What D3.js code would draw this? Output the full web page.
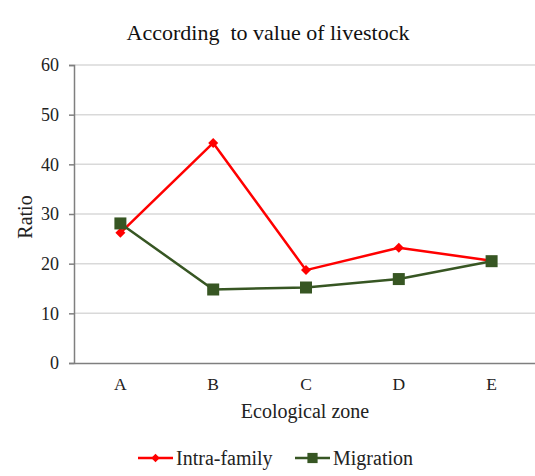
<!DOCTYPE html>
<html>
<head>
<meta charset="utf-8">
<script src="https://cdn.jsdelivr.net/npm/d3@7"></script>
<style>
  html, body { margin: 0; padding: 0; background: #fff; }
  svg { display: block; }
  svg text { font-family: "Liberation Serif", "Times New Roman", serif; }
</style>
</head>
<body>
<svg id="chart" width="535" height="476"></svg>
<script>
// Ecological zones and ratios per transfer type
const zones = ["A", "B", "C", "D", "E"];
const intraFamily = [26.2, 44.3, 18.7, 23.2, 20.6];
const migration = [28.1, 14.8, 15.2, 16.9, 20.5];
const yTicks = [0, 10, 20, 30, 40, 50, 60];

const FONT = "Liberation Serif, Times New Roman, serif";
const svg = d3.select("#chart");
const margin = { left: 74, right: -3, top: 65, bottom: 113 };
const W = 535, H = 476;

const x = d3.scaleBand().domain(zones).range([margin.left, W - margin.right]);
const y = d3.scaleLinear().domain([0, 60]).range([H - margin.bottom, margin.top]);
const cx = d => x(d) + x.bandwidth() / 2;

// gridlines
svg.append("g")
  .selectAll("line")
  .data(yTicks.filter(t => t > 0))
  .join("line")
  .attr("x1", margin.left).attr("x2", W)
  .attr("y1", d => y(d)).attr("y2", d => y(d))
  .attr("stroke", "#d9d9d9").attr("stroke-width", 1.5);

// y axis
const yAxis = svg.append("g")
  .attr("transform", `translate(${margin.left},0)`)
  .call(d3.axisLeft(y).tickValues(yTicks).tickSize(5).tickPadding(10));
yAxis.attr("font-family", FONT);
yAxis.select(".domain").attr("stroke", "#7f7f7f").attr("stroke-width", 1.5);
yAxis.selectAll(".tick line").attr("stroke", "#7f7f7f").attr("stroke-width", 1.5);
yAxis.selectAll("text").attr("font-size", 18).attr("fill", "#222");

// x axis
const xAxis = svg.append("g")
  .attr("transform", `translate(0,${y(0)})`)
  .call(d3.axisBottom(x).tickSize(0).tickPadding(15));
xAxis.attr("font-family", FONT);
xAxis.select(".domain").attr("stroke", "#7f7f7f").attr("stroke-width", 1.5);
xAxis.selectAll("text").attr("font-size", 17.5).attr("fill", "#222");

// titles
svg.append("text")
  .attr("x", 268).attr("y", 40)
  .attr("text-anchor", "middle")
  .attr("font-family", FONT)
  .attr("font-size", 22).attr("fill", "#111")
  .attr("xml:space", "preserve")
  .text("According  to value of livestock");

svg.append("text")
  .attr("x", 305).attr("y", 418)
  .attr("text-anchor", "middle")
  .attr("font-family", FONT)
  .attr("font-size", 20).attr("fill", "#222")
  .text("Ecological zone");

svg.append("text")
  .attr("transform", "translate(32,217) rotate(-90)")
  .attr("text-anchor", "middle")
  .attr("font-family", FONT)
  .attr("font-size", 20).attr("fill", "#222")
  .text("Ratio");

// series
const series = [
  { name: "Intra-family", values: intraFamily, color: "#ff0000", marker: "diamond" },
  { name: "Migration", values: migration, color: "#375623", marker: "square" }
];

const line = d3.line().x((d, i) => cx(zones[i])).y(d => y(d));

function drawMarker(g, type, color, px, py, scale = 1) {
  if (type === "diamond") {
    const s = 5 * scale;
    g.append("path")
      .attr("d", `M${px},${py - s}L${px + s},${py}L${px},${py + s}L${px - s},${py}Z`)
      .attr("fill", color);
  } else {
    const s = 6 * scale;
    g.append("rect")
      .attr("x", px - s).attr("y", py - s)
      .attr("width", 2 * s).attr("height", 2 * s)
      .attr("fill", color);
  }
}

series.forEach(s => {
  svg.append("path")
    .datum(s.values)
    .attr("d", line)
    .attr("fill", "none")
    .attr("stroke", s.color)
    .attr("stroke-width", 2.5)
    .attr("stroke-linejoin", "round");
  const g = svg.append("g");
  s.values.forEach((v, i) => drawMarker(g, s.marker, s.color, cx(zones[i]), y(v)));
});

// legend
const legendY = 458;
const legendItems = [
  { s: series[0], x0: 138 },
  { s: series[1], x0: 295 }
];
legendItems.forEach(({ s, x0 }) => {
  const g = svg.append("g");
  g.append("line")
    .attr("x1", x0).attr("x2", x0 + 35)
    .attr("y1", legendY).attr("y2", legendY)
    .attr("stroke", s.color).attr("stroke-width", 2.5);
  drawMarker(g, s.marker, s.color, x0 + 17.5, legendY, 0.85);
  g.append("text")
    .attr("x", x0 + 38).attr("y", legendY + 7)
    .attr("font-family", FONT)
    .attr("font-size", 20).attr("fill", "#222")
    .text(s.name);
});
</script>
</body>
</html>
